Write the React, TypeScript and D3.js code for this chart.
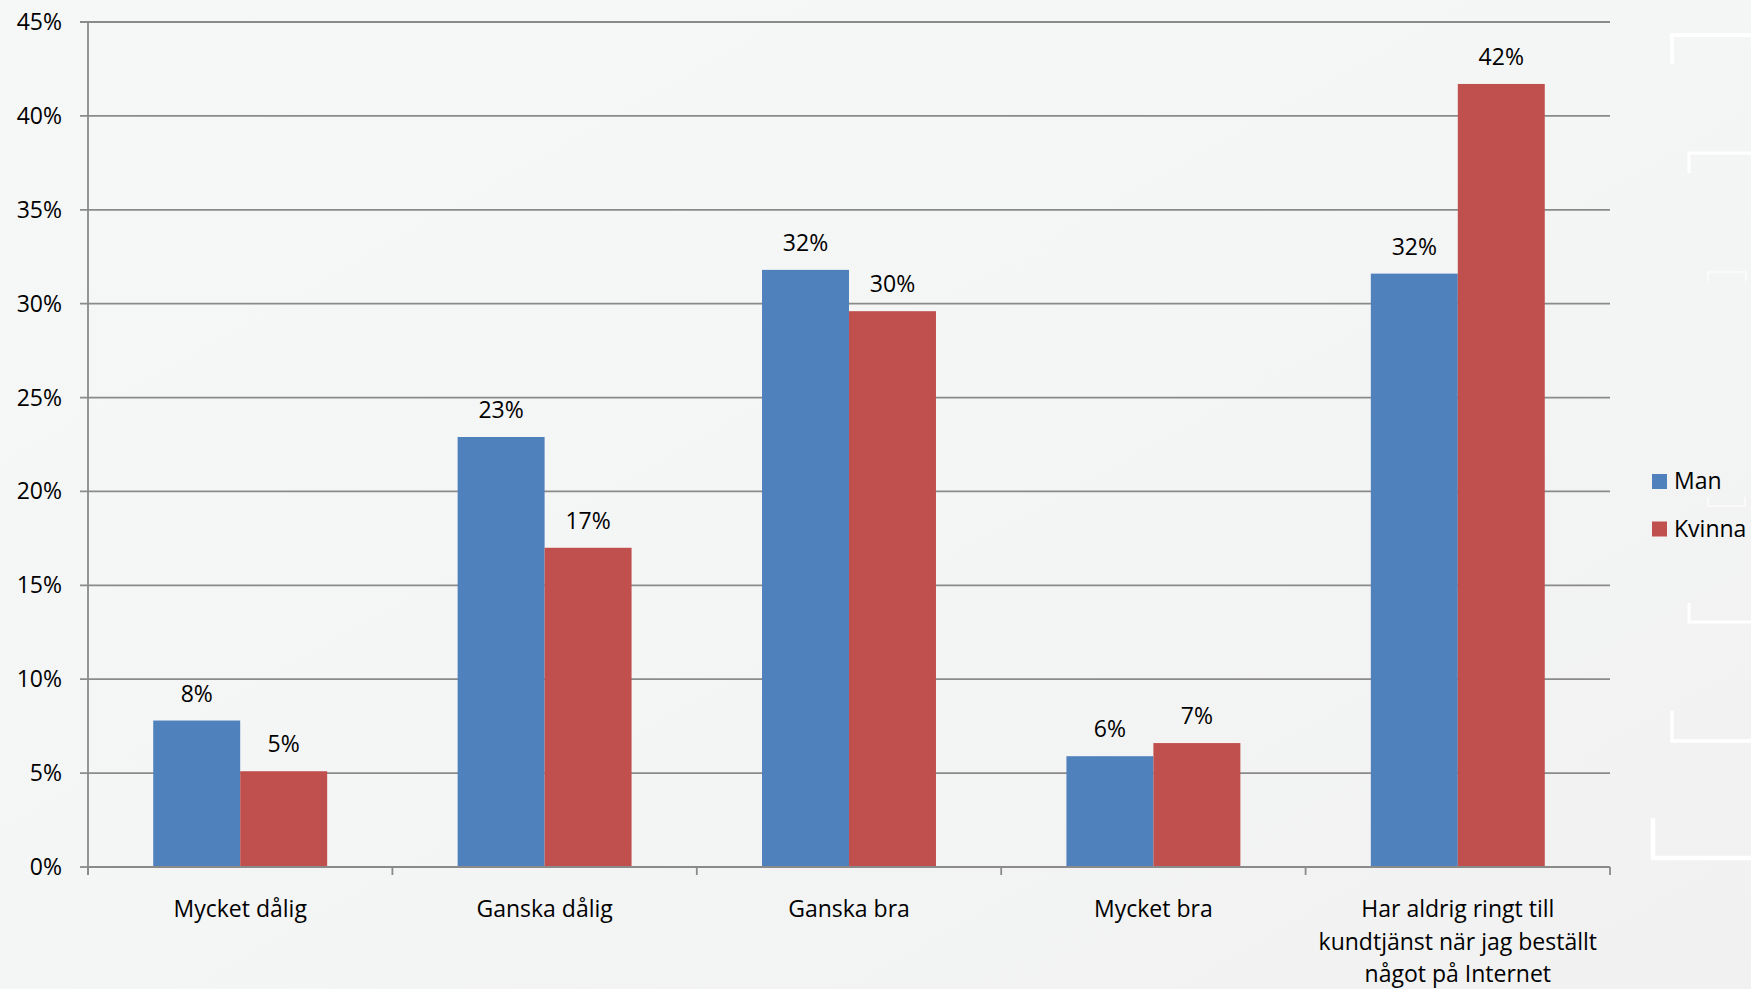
import React from "react";
import * as d3 from "d3";

const categories: string[][] = [
  ["Mycket dålig"],
  ["Ganska dålig"],
  ["Ganska bra"],
  ["Mycket bra"],
  ["Har aldrig ringt till", "kundtjänst när jag beställt", "något på Internet"],
];
const seriesNames = ["Man", "Kvinna"];
const manValues = [7.8, 22.9, 31.8, 5.9, 31.6];
const kvinnaValues = [5.1, 17.0, 29.6, 6.6, 41.7];
const yTicks = [0, 5, 10, 15, 20, 25, 30, 35, 40, 45];
const colors = ["#4f81bd", "#c0504d"];

const W = 1751;
const H = 989;
const FONT = "'Open Sans', 'DejaVu Sans', sans-serif";

export default function App() {
  const left = 88;
  const right = 1610;
  const top = 22;
  const bottom = 867;
  const y = d3.scaleLinear().domain([0, 45]).range([bottom, top]);
  const catIdx = categories.map((_, i) => String(i));
  const x0 = d3.scaleBand<string>().domain(catIdx).range([left, right]).padding(0);
  const x1 = d3
    .scaleBand<string>()
    .domain(seriesNames)
    .range([0, x0.bandwidth()])
    .paddingInner(0)
    .paddingOuter(0.75);
  const series = [manValues, kvinnaValues];
  const gridColor = "#8a8a8a";

  const boundaries = d3.range(categories.length + 1).map((i) =>
    i < categories.length ? (x0(String(i)) as number) : right
  );

  return (
    <svg
      width={W}
      height={H}
      style={{ position: "absolute", left: 0, top: 0, display: "block" }}
      fontFamily={FONT}
    >
      <defs>
        <linearGradient id="bg" x1="0" y1="0" x2="1" y2="1">
          <stop offset="0" stopColor="#f6f7f7" />
          <stop offset="0.5" stopColor="#f4f5f5" />
          <stop offset="1" stopColor="#f1f1f1" />
        </linearGradient>
      </defs>
      <rect x={0} y={0} width={W} height={H} fill="url(#bg)" />

      {/* decorative brackets */}
      <g fill="none" stroke="#ffffff">
        <path d="M1672,64 V35 H1751" strokeWidth={4} />
        <path d="M1689,173 V153 H1751" strokeWidth={3} />
        <path d="M1708,281 V272 H1746 V281" strokeWidth={1.2} />
        <path d="M1708,497 V506 H1745 V497" strokeWidth={1.2} />
        <path d="M1689,603 V622 H1751" strokeWidth={3} />
        <path d="M1672,711 V741 H1751" strokeWidth={3.5} />
        <path d="M1653,818 V858 H1751" strokeWidth={4.5} />
      </g>

      {/* gridlines and y ticks */}
      {yTicks.map((t) => (
        <g key={t}>
          <line
            x1={80}
            x2={t === 0 ? left : right}
            y1={y(t)}
            y2={y(t)}
            stroke={gridColor}
            strokeWidth={1.8}
          />
          <text
            x={62}
            y={y(t) + 8}
            textAnchor="end"
            fontSize={23}
            fill="#000"
          >
            {t}%
          </text>
        </g>
      ))}

      {/* bars */}
      {categories.map((_, ci) =>
        seriesNames.map((s, si) => {
          const v = series[si][ci];
          const bx = (x0(String(ci)) as number) + (x1(s) as number);
          return (
            <rect
              key={ci + "-" + s}
              x={bx}
              y={y(v)}
              width={x1.bandwidth()}
              height={y(0) - y(v)}
              fill={colors[si]}
            />
          );
        })
      )}

      {/* data labels */}
      {categories.map((_, ci) =>
        seriesNames.map((s, si) => {
          const v = series[si][ci];
          const cx = (x0(String(ci)) as number) + (x1(s) as number) + x1.bandwidth() / 2;
          return (
            <text
              key={"l" + ci + "-" + s}
              x={cx}
              y={y(v) - 19}
              textAnchor="middle"
              fontSize={23}
              fill="#000"
            >
              {Math.round(v)}%
            </text>
          );
        })
      )}

      {/* axes */}
      <line x1={left} x2={left} y1={top} y2={bottom + 8} stroke={gridColor} strokeWidth={1.8} />
      <line x1={left} x2={right} y1={bottom} y2={bottom} stroke={gridColor} strokeWidth={1.8} />
      {boundaries.map((bx, i) => (
        <line key={"t" + i} x1={bx} x2={bx} y1={bottom} y2={bottom + 8} stroke={gridColor} strokeWidth={1.8} />
      ))}

      {/* category labels */}
      {categories.map((lines, ci) => {
        const cx = (x0(String(ci)) as number) + x0.bandwidth() / 2;
        return (
          <text key={"c" + ci} textAnchor="middle" fontSize={23} fill="#000">
            {lines.map((ln, li) => (
              <tspan key={li} x={cx} y={917 + li * 32.5}>
                {ln}
              </tspan>
            ))}
          </text>
        );
      })}

      {/* legend */}
      {seriesNames.map((s, si) => (
        <g key={"lg" + s}>
          <rect x={1652} y={474 + si * 47.5} width={15} height={15} fill={colors[si]} />
          <text x={1674} y={489 + si * 47.5} fontSize={23} fill="#000">
            {s}
          </text>
        </g>
      ))}
    </svg>
  );
}
